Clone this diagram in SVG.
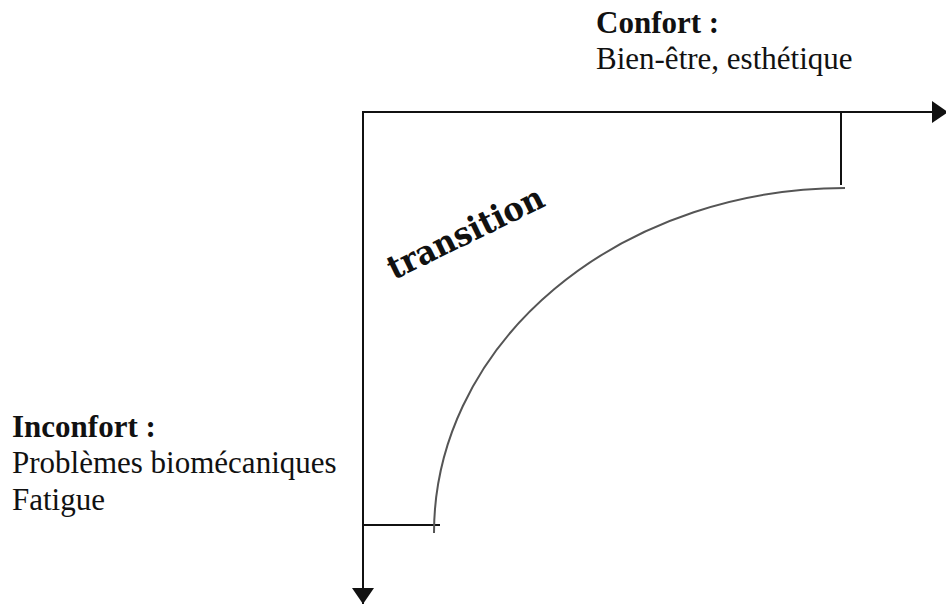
<svg xmlns="http://www.w3.org/2000/svg" width="946" height="604" viewBox="0 0 946 604">
<style>
.lbl{font-family:"Liberation Serif","Times New Roman",serif;font-size:31px;fill:#111}
.b{font-weight:bold}
.ax{stroke:#111;stroke-width:2;fill:none}
.tk{stroke:#111;stroke-width:2;fill:none}
.cv{stroke:#555;stroke-width:2;fill:none}
.tr{font-family:"DejaVu Serif",serif;font-weight:bold;font-size:33px;fill:#111}
</style>
<defs>
<marker id="ah" viewBox="0 0 10 10" refX="10" refY="5" markerWidth="16" markerHeight="22" markerUnits="userSpaceOnUse" orient="auto" preserveAspectRatio="none">
<path d="M0,0 L10,5 L0,10 Z" fill="#111"/>
</marker>
</defs>
<rect width="946" height="604" fill="#fff"/>
<g id="connectors">
<path class="ax" d="M362,112 H948" marker-end="url(#ah)"/>
<path class="ax" d="M363,112 V604" marker-end="url(#ah)"/>
<path class="tk" d="M841,112 V185"/>
<path class="tk" d="M363,525 H440"/>
<path class="cv" d="M434,533 A411,345 0 0 1 845,188"/>
</g>
<g id="confort">
<text class="lbl b" x="596" y="33">Confort :</text>
<text class="lbl" x="596" y="69">Bien-être, esthétique</text>
</g>
<g id="inconfort">
<text class="lbl b" x="12" y="437">Inconfort :</text>
<text class="lbl" x="12" y="473">Problèmes biomécaniques</text>
<text class="lbl" x="12" y="510">Fatigue</text>
</g>
<g id="transition">
<text class="tr" x="0" y="0" transform="translate(394,280) rotate(-26)" textLength="170" lengthAdjust="spacingAndGlyphs">transition</text>
</g>
</svg>
